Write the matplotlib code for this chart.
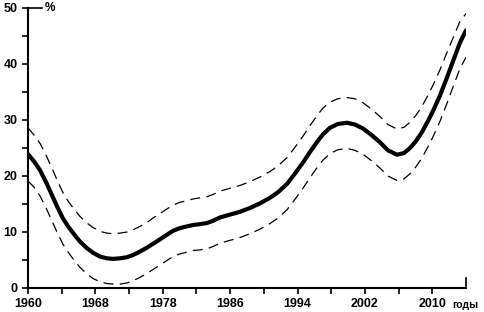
import matplotlib
matplotlib.use("Agg")
import matplotlib.pyplot as plt

# x positions measured in tick units (0 = 1960 tick, 13 = right end of axis)
pos = [0.00, 0.18, 0.36, 0.56, 0.74, 0.89, 1.04, 1.19, 1.34, 1.54,
       1.75, 1.93, 2.14, 2.34, 2.52, 2.73, 2.94, 3.12, 3.32, 3.53,
       3.71, 3.92, 4.12, 4.30, 4.51, 4.72, 4.90, 5.10, 5.31, 5.49,
       5.70, 5.99, 6.29, 6.59, 6.88, 7.18, 7.42, 7.69, 7.92, 8.16,
       8.37, 8.58, 8.75, 8.96, 9.20, 9.47, 9.70, 9.94, 10.18, 10.45,
       10.68, 10.95, 11.16, 11.34, 11.51, 11.69, 11.87, 12.02, 12.23, 12.43,
       12.64, 12.82, 13.00]
center = [23.9, 22.6, 21.0, 18.6, 16.2, 14.2, 12.4, 11.0, 9.8, 8.3,
          7.1, 6.3, 5.6, 5.3, 5.2, 5.3, 5.5, 5.9, 6.5, 7.2,
          7.9, 8.7, 9.5, 10.2, 10.7, 11.0, 11.25, 11.4, 11.6, 12.0,
          12.6, 13.1, 13.6, 14.3, 15.1, 16.1, 17.1, 18.6, 20.4, 22.4,
          24.3, 26.1, 27.4, 28.6, 29.3, 29.5, 29.2, 28.5, 27.4, 26.0,
          24.6, 23.8, 24.1, 25.0, 26.2, 27.8, 29.8, 31.6, 34.4, 37.5,
          40.9, 43.8, 46.0]
upper = [28.6, 27.3, 25.8, 23.4, 21.0, 18.9, 17.0, 15.5, 14.3, 12.8,
         11.6, 10.8, 10.1, 9.8, 9.7, 9.8, 10.0, 10.4, 11.0, 11.7,
         12.5, 13.3, 14.1, 14.8, 15.3, 15.6, 15.9, 16.1, 16.3, 16.7,
         17.3, 17.8, 18.3, 19.0, 19.8, 20.8, 21.8, 23.3, 25.1, 27.1,
         29.0, 30.8, 32.1, 33.2, 33.8, 34.0, 33.8, 33.1, 32.0, 30.6,
         29.2, 28.4, 28.7, 29.6, 30.8, 32.4, 34.4, 36.2, 39.0, 42.0,
         45.0, 47.6, 49.0]
lower = [19.1, 18.0, 16.4, 14.0, 11.6, 9.6, 7.8, 6.4, 5.2, 3.7,
         2.5, 1.7, 1.1, 0.8, 0.7, 0.7, 0.9, 1.3, 1.9, 2.6,
         3.3, 4.1, 4.9, 5.6, 6.1, 6.4, 6.7, 6.8, 7.0, 7.4,
         8.0, 8.5, 9.0, 9.7, 10.5, 11.5, 12.5, 14.0, 15.8, 17.8,
         19.7, 21.5, 22.8, 24.0, 24.7, 24.9, 24.6, 23.9, 22.8, 21.4,
         20.0, 19.2, 19.5, 20.4, 21.6, 23.2, 25.2, 27.0, 29.8, 32.9,
         36.3, 39.2, 41.2]

xtick_pos = [0, 2, 4, 6, 8, 10, 12]
xtick_labels = ["1960", "1968", "1978", "1986", "1994", "2002", "2010"]
xminor_pos = [1, 3, 5, 7, 9, 11]
ytick_major = [0, 10, 20, 30, 40, 50]
ytick_minor = [5, 15, 25, 35, 45]

font = "Liberation Sans"
fig = plt.figure(figsize=(4.85, 3.12), dpi=100)
ax = fig.add_axes([28/485, 1-288/312, (466-28)/485, (288-8)/312])

ax.plot(pos, upper, color="black", lw=0.9, dashes=(8, 5))
ax.plot(pos, lower, color="black", lw=0.9, dashes=(8, 5))
ax.plot(pos, center, color="black", lw=3.0, solid_joinstyle="round", solid_capstyle="round")

ax.set_xlim(0, 13)
ax.set_ylim(0, 50)
for s in ["top", "right"]:
    ax.spines[s].set_visible(False)
for s in ["left", "bottom"]:
    ax.spines[s].set_linewidth(1.5)

ax.set_xticks(xtick_pos)
ax.set_xticklabels(xtick_labels, fontfamily=font, fontweight="bold", fontsize=9)
ax.set_xticks(xminor_pos, minor=True)
ax.set_yticks(ytick_major)
ax.set_yticklabels([str(v) for v in ytick_major], fontfamily=font, fontweight="bold", fontsize=9)
ax.set_yticks(ytick_minor, minor=True)
ax.tick_params(which="both", direction="out", length=4.5, width=1.2, colors="black")
ax.tick_params(axis="x", which="major", pad=3)
ax.tick_params(axis="y", which="major", pad=3)

# axis end decorations
ax.plot([13, 13], [0, 1.8], color="black", lw=1.2, clip_on=False)
ax.plot([0, 0.42], [50, 50], color="black", lw=1.2, clip_on=False)

ax.text(0.5, 50, "%", fontfamily=font, fontweight="bold", fontsize=8.5,
        ha="left", va="center")
fig.text(452/485, 1-305/312, "годы", fontfamily=font, fontweight="bold", fontsize=7.5,
         ha="left", va="center")

fig.savefig("out.png", dpi=100)
